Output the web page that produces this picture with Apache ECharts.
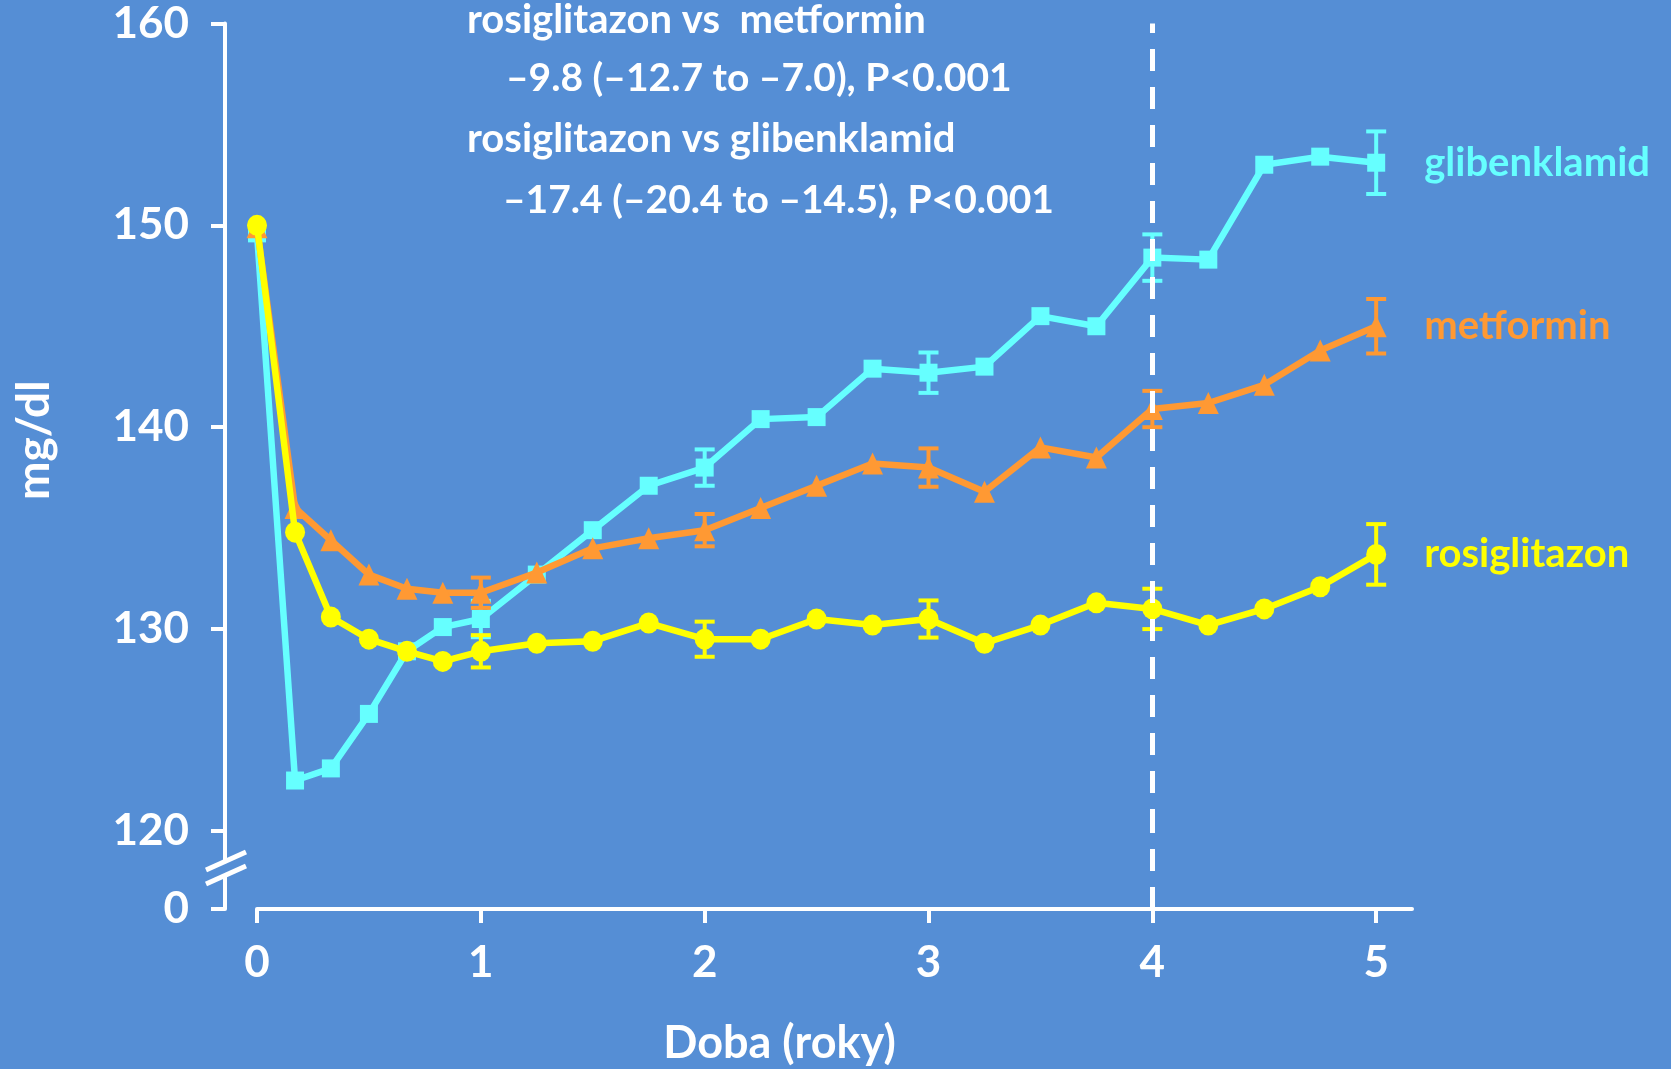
<!DOCTYPE html>
<html>
<head>
<meta charset="utf-8">
<script src="https://cdn.jsdelivr.net/npm/echarts@6/dist/echarts.min.js"></script>
<style>
  html, body { margin: 0; padding: 0; background: #558ed5; }
  #chart { width: 1671px; height: 1069px; }
</style>
</head>
<body>
<div id="chart"></div>
<script>
// doba v rocich
const years = [0, 0.17, 0.33, 0.5, 0.67, 0.83, 1, 1.25, 1.5, 1.75, 2, 2.25, 2.5, 2.75, 3, 3.25, 3.5, 3.75, 4, 4.25, 4.5, 4.75, 5]
// glykemie nalacno (mg/dl)
const glibenklamid = [149.6, 122.5, 123.1, 125.8, 128.9, 130.1, 130.5, 132.7, 134.9, 137.1, 138.0, 140.4, 140.5, 142.9, 142.7, 143.0, 145.5, 145.0, 148.4, 148.3, 153.0, 153.4, 153.1]
const metformin = [149.9, 136.0, 134.4, 132.7, 132.0, 131.8, 131.8, 132.8, 134.0, 134.5, 134.9, 136.0, 137.1, 138.2, 138.0, 136.8, 139.0, 138.5, 140.9, 141.2, 142.1, 143.8, 145.0]
const rosiglitazon = [150.0, 134.8, 130.6, 129.5, 128.9, 128.4, 128.9, 129.3, 129.4, 130.3, 129.5, 129.5, 130.5, 130.2, 130.5, 129.3, 130.2, 131.3, 131.0, 130.2, 131.0, 132.1, 133.7]
// chybove useky (+/-) v rocich 1..5
const errYears = [1, 2, 3, 4, 5]
const glibenklamidErr = [0.9, 0.9, 1.0, 1.15, 1.55]
const metforminErr = [0.75, 0.8, 0.95, 0.9, 1.35]
const rosiglitazonErr = [0.8, 0.87, 0.92, 1.0, 1.5]
// popisky os
const yTicks = [120, 130, 140, 150, 160]
const yTicksLow = [0]
const xTicks = [0, 1, 2, 3, 4, 5]
// text v grafu
const notes = [
  'rosiglitazon vs  metformin',
  '–9.8 (–12.7 to –7.0), P<0.001',
  'rosiglitazon vs glibenklamid',
  '–17.4 (–20.4 to –14.5), P<0.001'
]

const BG = '#558ed5'
const CYAN = '#66ffff'
const ORANGE = '#ff9933'
const YELLOW = '#ffff00'
const FONT = 'Lato'
const NOTE_FONT = 'bold 40px Lato'
const NOTE_FONT2 = 'bold 39px Lato'

const myChart = echarts.init(document.getElementById('chart'))

// spoji hodnoty a chyby do [x, dolni, horni]
function errData(values, errs) {
  return errYears.map((t, i) => {
    const v = values[years.indexOf(t)]
    return [t, v - errs[i], v + errs[i]]
  })
}

function errorBar(color) {
  return function (params, api) {
    const x = api.value(0)
    const lo = api.coord([x, api.value(1)])
    const hi = api.coord([x, api.value(2)])
    const w = 10
    const style = { stroke: color, lineWidth: 4 }
    return {
      type: 'group',
      children: [
        { type: 'line', shape: { x1: lo[0], y1: lo[1], x2: hi[0], y2: hi[1] }, style },
        { type: 'line', shape: { x1: lo[0] - w, y1: lo[1], x2: lo[0] + w, y2: lo[1] }, style },
        { type: 'line', shape: { x1: hi[0] - w, y1: hi[1], x2: hi[0] + w, y2: hi[1] }, style }
      ]
    }
  }
}

function lineSeries(name, values, color, symbol, size, z) {
  return {
    name: name,
    type: 'line',
    xAxisIndex: 0,
    yAxisIndex: 0,
    data: years.map((t, i) => [t, values[i]]),
    symbol: symbol,
    symbolSize: size,
    z: z,
    lineStyle: { color: color, width: 6.5 },
    itemStyle: { color: color, opacity: 1 },
    endLabel: {
      show: true,
      formatter: name,
      color: color,
      fontFamily: FONT,
      fontWeight: 'bold',
      fontSize: 40,
      distance: 48
    },
    animation: false
  }
}

const dashStyle = { color: '#fff', width: 5, type: [22, 16] }

const option = {
  backgroundColor: BG,
  animation: false,
  grid: [
    { left: 257, top: 23.4, width: 1155, height: 807.6 },
    { left: 257, top: 831, width: 1155, height: 78 }
  ],
  xAxis: [
    { gridIndex: 0, type: 'value', min: 0, max: 5.16, show: false },
    {
      gridIndex: 1, type: 'value', min: 0, max: 5.16,
      axisLine: { onZero: false, lineStyle: { color: '#fff', width: 4 } },
      axisTick: { customValues: xTicks, length: 14, lineStyle: { color: '#fff', width: 4 } },
      axisLabel: { customValues: xTicks, color: '#fff', fontFamily: FONT, fontWeight: 'bold', fontSize: 44, margin: 32 },
      splitLine: { show: false },
      name: 'Doba (roky)',
      nameLocation: 'middle',
      nameGap: 112,
      nameTextStyle: { color: '#fff', fontFamily: FONT, fontWeight: 'bold', fontSize: 45, padding: [0, 110, 0, 0] }
    }
  ],
  yAxis: [
    {
      gridIndex: 0, type: 'value', min: 120, max: 160, interval: 10, offset: 32,
      axisLine: { show: true, onZero: false, lineStyle: { color: '#fff', width: 4 } },
      axisTick: { show: true, customValues: yTicks, length: 14, lineStyle: { color: '#fff', width: 4 } },
      axisLabel: { customValues: yTicks, color: '#fff', fontFamily: FONT, fontWeight: 'bold', fontSize: 44, margin: 36 },
      splitLine: { show: false },
      name: 'mg/dl',
      nameLocation: 'middle',
      nameRotate: 90,
      nameGap: 168,
      nameTextStyle: { color: '#fff', fontFamily: FONT, fontWeight: 'bold', fontSize: 46, padding: [0, 26, 0, 0] }
    },
    {
      gridIndex: 1, type: 'value', min: 0, max: 1, offset: 32,
      axisLine: { show: true, onZero: false, lineStyle: { color: '#fff', width: 4 } },
      axisTick: { show: true, customValues: yTicksLow, length: 14, lineStyle: { color: '#fff', width: 4 } },
      axisLabel: { customValues: yTicksLow, color: '#fff', fontFamily: FONT, fontWeight: 'bold', fontSize: 44, margin: 36 },
      splitLine: { show: false }
    }
  ],
  series: [
    Object.assign(lineSeries('glibenklamid', glibenklamid, CYAN, 'rect', [18, 18], 2), {
      markLine: {
        silent: true, symbol: 'none', label: { show: false },
        lineStyle: dashStyle,
        data: [{ xAxis: 4 }]
      }
    }),
    lineSeries('metformin', metformin, ORANGE, 'triangle', [21, 22], 3),
    lineSeries('rosiglitazon', rosiglitazon, YELLOW, 'circle', [20, 21], 4),
    { type: 'custom', xAxisIndex: 0, yAxisIndex: 0, z: 2, renderItem: errorBar(CYAN), data: errData(glibenklamid, glibenklamidErr) },
    { type: 'custom', xAxisIndex: 0, yAxisIndex: 0, z: 3, renderItem: errorBar(ORANGE), data: errData(metformin, metforminErr) },
    { type: 'custom', xAxisIndex: 0, yAxisIndex: 0, z: 4, renderItem: errorBar(YELLOW), data: errData(rosiglitazon, rosiglitazonErr) },
    {
      type: 'line', xAxisIndex: 1, yAxisIndex: 1, data: [],
      markLine: {
        silent: true, symbol: 'none', label: { show: false },
        lineStyle: dashStyle,
        data: [{ xAxis: 4 }]
      }
    }
  ],
  graphic: [
    // preruseni osy y
    { type: 'polygon', z: 100, shape: { points: [[206, 870], [246, 852], [246, 866], [206, 884]] }, style: { fill: BG } },
    { type: 'line', z: 101, shape: { x1: 206, y1: 870, x2: 246, y2: 852 }, style: { stroke: '#fff', lineWidth: 5 } },
    { type: 'line', z: 101, shape: { x1: 206, y1: 884, x2: 246, y2: 866 }, style: { stroke: '#fff', lineWidth: 5 } },
    // vysledky srovnani
    { type: 'text', left: 467, top: 0, style: { text: notes[0], fill: '#fff', font: NOTE_FONT } },
    { type: 'text', left: 506, top: 59, style: { text: notes[1], fill: '#fff', font: NOTE_FONT2 } },
    { type: 'text', left: 467, top: 119, style: { text: notes[2], fill: '#fff', font: NOTE_FONT } },
    { type: 'text', left: 503, top: 181, style: { text: notes[3], fill: '#fff', font: NOTE_FONT2 } }
  ]
}

option && myChart.setOption(option)
window.addEventListener('resize', () => {
  myChart.resize()
})
</script>
</body>
</html>
